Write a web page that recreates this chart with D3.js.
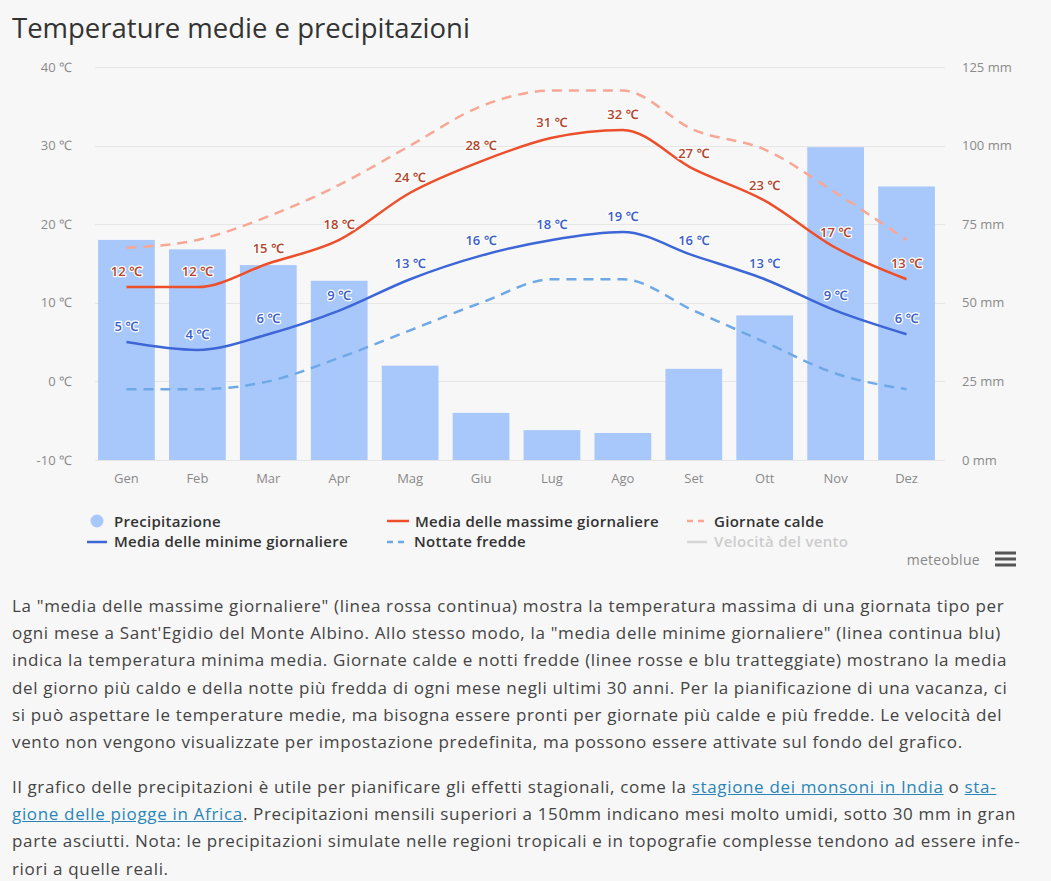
<!DOCTYPE html>
<html>
<head>
<meta charset="utf-8">
<script src="https://d3js.org/d3.v7.min.js"></script>
<style>
  body { margin: 0; background: #f7f7f7; font-family: "Open Sans", "Noto Sans", sans-serif; }
  #wrap { position: relative; width: 1051px; height: 881px; overflow: hidden; }
  svg { position: absolute; left: 0; top: 0; }
  .txt { position: absolute; left: 12px; width: 1035px; color: #444; font-size: 17px; letter-spacing: 0.66px; line-height: 27.2px; }
  .txt div { white-space: nowrap; }
  .txt a { color: #2a86b8; text-decoration: underline; }
</style>
</head>
<body>
<div id="wrap">
  <svg width="1051" height="580"></svg>
  <div class="txt" id="p1" style="top:592px"></div>
  <div class="txt" id="p2" style="top:773px"></div>
</div>
<script>
var months = ["Gen", "Feb", "Mar", "Apr", "Mag", "Giu", "Lug", "Ago", "Set", "Ott", "Nov", "Dez"];
var precip = [70, 67, 62, 57, 30, 15, 9.5, 8.6, 29, 46, 99.5, 87];
var tMax = [12, 12, 15, 18, 24, 28, 31, 32, 27, 23, 17, 13];
var tMin = [5, 4, 6, 9, 13, 16, 18, 19, 16, 13, 9, 6];
var hotDays = [17, 18, 21, 25, 30, 35, 37, 37, 32, 29.5, 24, 18];
var coldNights = [-1, -1, 0, 3, 6.5, 10, 13, 13, 9, 5, 1, -1];
var tempTicks = [-10, 0, 10, 20, 30, 40];
var precTicks = [0, 25, 50, 75, 100, 125];

var svg = d3.select("svg");
var plotLeft = 91, plotRight = 942, plotTop = 67, plotBottom = 460;

var x = d3.scaleBand().domain(months).range([plotLeft, plotRight]).paddingInner(0.2).paddingOuter(0.1);
var yT = d3.scaleLinear().domain([-10, 40]).range([plotBottom, plotTop]);
var yP = d3.scaleLinear().domain([0, 125]).range([plotBottom, plotTop]);

// title
svg.append("text").attr("x", 12).attr("y", 38)
  .attr("font-size", 27.5).attr("fill", "#333")
  .text("Temperature medie e precipitazioni");

// grid
svg.append("g").selectAll("line").data(tempTicks).join("line")
  .attr("x1", 95).attr("x2", 945)
  .attr("y1", function (d) { return Math.round(yT(d)) + 0.5; })
  .attr("y2", function (d) { return Math.round(yT(d)) + 0.5; })
  .attr("stroke", "#e6e6e6");

// axes
var yAxisL = d3.axisLeft(yT).tickValues(tempTicks).tickSize(0).tickPadding(0)
  .tickFormat(function (d) { return d + " ℃"; });
var gL = svg.append("g").attr("transform", "translate(72,0)").call(yAxisL);
var yAxisR = d3.axisRight(yP).tickValues(precTicks).tickSize(0).tickPadding(0)
  .tickFormat(function (d) { return d + " mm"; });
var gR = svg.append("g").attr("transform", "translate(962,0)").call(yAxisR);
var xAxis = d3.axisBottom(x).tickSize(0).tickPadding(0);
var gX = svg.append("g").attr("transform", "translate(0,474)").call(xAxis);
[gL, gR, gX].forEach(function (g) {
  g.select(".domain").remove();
  g.selectAll("text").attr("fill", "#8a8a8a").attr("font-size", 13)
    .attr("font-family", "'Open Sans', sans-serif");
});

// bars
svg.append("g").selectAll("rect").data(precip).join("rect")
  .attr("x", function (d, i) { return x(months[i]); })
  .attr("width", x.bandwidth())
  .attr("y", function (d) { return yP(d); })
  .attr("height", function (d) { return yP(0) - yP(d); })
  .attr("fill", "#a8c8fb");

function cx(i) { return x(months[i]) + x.bandwidth() / 2; }
var line = d3.line()
  .curve(d3.curveMonotoneX)
  .x(function (d, i) { return cx(i); })
  .y(function (d) { return yT(d); });

svg.append("path").datum(coldNights).attr("d", line)
  .attr("fill", "none").attr("stroke", "#6ea9e6").attr("stroke-width", 2.5)
  .attr("stroke-dasharray", "10,7");
svg.append("path").datum(hotDays).attr("d", line)
  .attr("fill", "none").attr("stroke", "#f7a795").attr("stroke-width", 2.5)
  .attr("stroke-dasharray", "10,7");
svg.append("path").datum(tMin).attr("d", line)
  .attr("fill", "none").attr("stroke", "#3d66d6").attr("stroke-width", 2.5);
svg.append("path").datum(tMax).attr("d", line)
  .attr("fill", "none").attr("stroke", "#ec4f2a").attr("stroke-width", 2.5);

function labels(data, color) {
  svg.append("g").selectAll("text").data(data).join("text")
    .attr("x", function (d, i) { return cx(i); })
    .attr("y", function (d) { return yT(d) - 11; })
    .attr("text-anchor", "middle")
    .attr("font-size", 13).attr("font-weight", 600)
    .attr("fill", color)
    .attr("stroke", "#ffffff").attr("stroke-width", 2.5)
    .attr("stroke-linejoin", "round").attr("paint-order", "stroke")
    .text(function (d) { return d + " ℃"; });
}
labels(tMax, "#b2462c");
labels(tMin, "#3b60c9");

// legend
var lg = svg.append("g").attr("font-size", 15).attr("font-weight", 600).attr("fill", "#333")
  .attr("letter-spacing", 0.3);
lg.append("circle").attr("cx", 97).attr("cy", 521).attr("r", 6.5).attr("fill", "#a8c8fb");
lg.append("text").attr("x", 114).attr("y", 527).text("Precipitazione");
lg.append("line").attr("x1", 387).attr("x2", 409).attr("y1", 521).attr("y2", 521)
  .attr("stroke", "#ec4f2a").attr("stroke-width", 2.5);
lg.append("text").attr("x", 415).attr("y", 527).text("Media delle massime giornaliere");
lg.append("line").attr("x1", 687).attr("x2", 705).attr("y1", 521).attr("y2", 521)
  .attr("stroke", "#f7a795").attr("stroke-width", 2.5).attr("stroke-dasharray", "6,5");
lg.append("text").attr("x", 714).attr("y", 527).text("Giornate calde");
lg.append("line").attr("x1", 87).attr("x2", 107).attr("y1", 542).attr("y2", 542)
  .attr("stroke", "#3d66d6").attr("stroke-width", 2.5);
lg.append("text").attr("x", 114).attr("y", 547).text("Media delle minime giornaliere");
lg.append("line").attr("x1", 387).attr("x2", 407).attr("y1", 542).attr("y2", 542)
  .attr("stroke", "#6ea9e6").attr("stroke-width", 2.5).attr("stroke-dasharray", "6,5");
lg.append("text").attr("x", 414).attr("y", 547).text("Nottate fredde");
lg.append("line").attr("x1", 687).attr("x2", 707).attr("y1", 542).attr("y2", 542)
  .attr("stroke", "#d6d6d6").attr("stroke-width", 2.5);
lg.append("text").attr("x", 714).attr("y", 547).attr("fill", "#cccccc").text("Velocità del vento");

svg.append("text").attr("x", 980).attr("y", 565).attr("text-anchor", "end")
  .attr("font-size", 14).attr("letter-spacing", 0.3).attr("fill", "#888").text("meteoblue");
[553, 559, 565].forEach(function (yy) {
  svg.append("rect").attr("x", 995).attr("y", yy - 1.5).attr("width", 21).attr("height", 3).attr("fill", "#555");
});

// paragraphs
var p1 = [
  "La \"media delle massime giornaliere\" (linea rossa continua) mostra la temperatura massima di una giornata tipo per",
  "ogni mese a Sant'Egidio del Monte Albino. Allo stesso modo, la \"media delle minime giornaliere\" (linea continua blu)",
  "indica la temperatura minima media. Giornate calde e notti fredde (linee rosse e blu tratteggiate) mostrano la media",
  "del giorno più caldo e della notte più fredda di ogni mese negli ultimi 30 anni. Per la pianificazione di una vacanza, ci",
  "si può aspettare le temperature medie, ma bisogna essere pronti per giornate più calde e più fredde. Le velocità del",
  "vento non vengono visualizzate per impostazione predefinita, ma possono essere attivate sul fondo del grafico."
];
d3.select("#p1").selectAll("div").data(p1).join("div").text(function (d) { return d; });

var p2 = d3.select("#p2");
var l1 = p2.append("div");
l1.append("span").text("Il grafico delle precipitazioni è utile per pianificare gli effetti stagionali, come la ");
l1.append("a").text("stagione dei monsoni in India");
l1.append("span").text(" o ");
l1.append("a").text("sta-");
var l2 = p2.append("div");
l2.append("a").text("gione delle piogge in Africa");
l2.append("span").text(". Precipitazioni mensili superiori a 150mm indicano mesi molto umidi, sotto 30 mm in gran");
p2.append("div").text("parte asciutti. Nota: le precipitazioni simulate nelle regioni tropicali e in topografie complesse tendono ad essere infe-");
p2.append("div").text("riori a quelle reali.");
</script>
</body>
</html>
